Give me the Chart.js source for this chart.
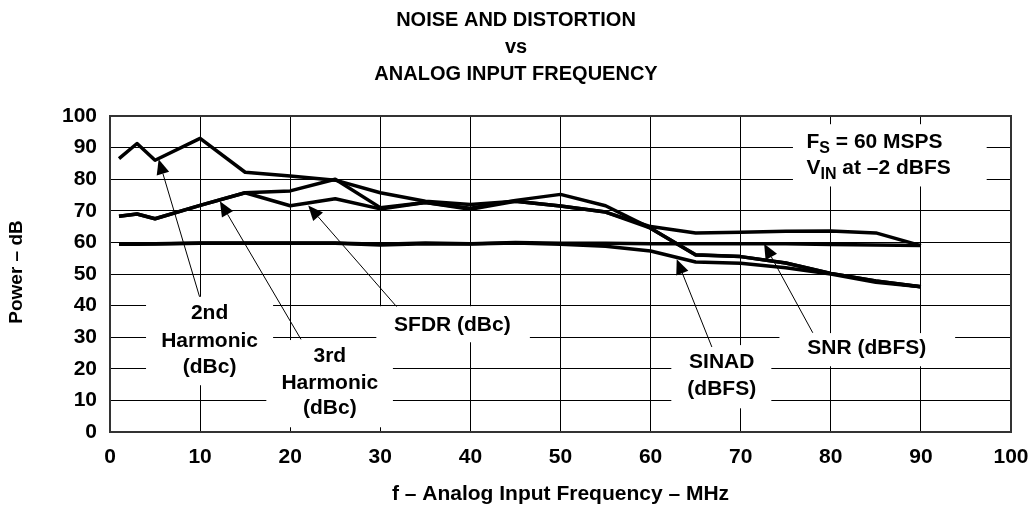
<!DOCTYPE html>
<html>
<head>
<meta charset="utf-8">
<script src="https://cdn.jsdelivr.net/npm/chart.js@4/dist/chart.umd.min.js"></script>
<style>
html,body{margin:0;padding:0;background:#fff;}
#wrap{width:1031px;height:510px;}
</style>
</head>
<body>
<div id="wrap"><canvas id="c" width="1031" height="510"></canvas></div>
<script>
// ---- data ----
const freqs      = [1, 3, 5, 10, 15, 20, 25, 30, 35, 40, 45, 50, 55, 60, 65, 70, 75, 80, 85, 90];
const secondHarm = [86.5, 91.3, 86, 92.9, 82.2, 81, 79.7, 75.7, 73, 72, 73, 71.5, 69.6, 65, 63, 63.2, 63.5, 63.6, 63, 59];
const thirdHarm  = [68.3, 69, 67.5, 71.7, 75.7, 76.3, 80, 71, 72.6, 70.8, 73.3, 75.2, 71.6, 64.5, 56.1, 55.5, 53.5, 50.2, 47.8, 46];
const sfdr       = [68.3, 69, 67.5, 71.7, 75.7, 71.6, 73.8, 70.6, 72.6, 70.5, 73, 71.5, 69.6, 64.5, 56, 55.5, 53.5, 50.2, 47.8, 46];
const snr        = [59.5, 59.6, 59.6, 59.8, 59.8, 59.8, 59.8, 59.4, 59.8, 59.6, 60, 59.7, 59.7, 59.6, 59.6, 59.6, 59.6, 59.3, 59.2, 59];
const sinad      = [59.4, 59.4, 59.5, 59.7, 59.7, 59.7, 59.7, 59.2, 59.6, 59.5, 59.8, 59.4, 58.8, 57.3, 53.8, 53.4, 52, 50, 47.4, 46];
const xTicks = [0,10,20,30,40,50,60,70,80,90,100];
const yTicks = [0,10,20,30,40,50,60,70,80,90,100];
const titleLines = ['NOISE AND DISTORTION', 'vs', 'ANALOG INPUT FREQUENCY'];
const xTitle = 'f – Analog Input Frequency – MHz';
const yTitle = 'Power – dB';

// annotations (data coordinates)
const labels = [
  {lines:['2nd','Harmonic','(dBc)'], x:11.05, y:[37.6,28.8,20.4], box:[4.0,42.8,18.1,14.8]},
  {lines:['3rd','Harmonic','(dBc)'], x:24.4, y:[24.0,15.6,7.4], box:[17.35,29.1,31.4,1.5]},
  {lines:['SFDR (dBc)'], x:38.0, y:[33.8], box:[29.56,39.8,46.6,28.4]},
  {lines:['SINAD','(dBFS)'], x:67.9, y:[22.2,13.7], box:[62.3,27.5,73.4,7.5]},
  {lines:['SNR (dBFS)'], x:84.0, y:[26.4], box:[74.3,31.3,93.8,20.8]}
];
const fsBox = [75.8,97.4,97.3,77.7];
const arrows = [
  {from:[9.94,42.8], to:[5.4,86.3]},
  {from:[21.2,29.3], to:[12.2,73.0]},
  {from:[31.8,39.7], to:[22.0,71.7]},
  {from:[66.8,26.9], to:[62.9,54.7]},
  {from:[78.0,31.4], to:[72.6,59.6]}
];

const FONT = '"Liberation Sans", Arial, Helvetica, sans-serif';
const toXY = (xs, ys) => xs.map((x,i)=>({x:x, y:ys[i]}));
const series = [secondHarm, thirdHarm, sfdr, snr, sinad];
const names = ['2nd Harmonic (dBc)','3rd Harmonic (dBc)','SFDR (dBc)','SNR (dBFS)','SINAD (dBFS)'];

const annot = {
  id:'annot',
  beforeDatasetsDraw(chart){
    const ctx = chart.ctx, xs = chart.scales.x, ys = chart.scales.y;
    ctx.save();
    ctx.fillStyle = '#fff';
    const boxes = labels.map(l=>l.box).concat([fsBox]);
    boxes.forEach(b=>{
      const x1 = xs.getPixelForValue(b[0]), y1 = ys.getPixelForValue(b[1]);
      const x2 = xs.getPixelForValue(b[2]), y2 = ys.getPixelForValue(b[3]);
      ctx.fillRect(x1, y1, x2-x1, y2-y1);
    });
    ctx.restore();
  },
  afterDatasetsDraw(chart){
    const ctx = chart.ctx, xs = chart.scales.x, ys = chart.scales.y;
    ctx.save();
    ctx.fillStyle = '#000';
    ctx.font = 'bold 21px ' + FONT;
    ctx.textAlign = 'center';
    ctx.textBaseline = 'middle';
    labels.forEach(l=>{
      l.lines.forEach((t,i)=>{
        ctx.fillText(t, xs.getPixelForValue(l.x), ys.getPixelForValue(l.y[i]));
      });
    });
    // Fs annotation with subscripts
    ctx.textAlign = 'left';
    ctx.textBaseline = 'alphabetic';
    const fx = xs.getPixelForValue(77.3);
    const b1 = ys.getPixelForValue(92.1) + 7.5, b2 = ys.getPixelForValue(84.1) + 7.5;
    let x = fx;
    ctx.font = 'bold 21px ' + FONT; ctx.fillText('F', x, b1); x += ctx.measureText('F').width;
    ctx.font = 'bold 16px ' + FONT; ctx.fillText('S', x, b1+5); x += ctx.measureText('S').width;
    ctx.font = 'bold 21px ' + FONT; ctx.fillText(' = 60 MSPS', x, b1);
    x = fx;
    ctx.fillText('V', x, b2); x += ctx.measureText('V').width;
    ctx.font = 'bold 16px ' + FONT; ctx.fillText('IN', x, b2+5); x += ctx.measureText('IN').width;
    ctx.font = 'bold 21px ' + FONT; ctx.fillText(' at –2 dBFS', x, b2);
    // arrows
    ctx.strokeStyle = '#000';
    ctx.lineWidth = 1;
    arrows.forEach(a=>{
      const x1 = xs.getPixelForValue(a.from[0]), y1 = ys.getPixelForValue(a.from[1]);
      const x2 = xs.getPixelForValue(a.to[0]), y2 = ys.getPixelForValue(a.to[1]);
      const ang = Math.atan2(y2-y1, x2-x1);
      const L = 15, W = 6.5;
      const bx = x2 - L*Math.cos(ang), by = y2 - L*Math.sin(ang);
      ctx.beginPath(); ctx.moveTo(x1,y1); ctx.lineTo(bx,by); ctx.stroke();
      ctx.beginPath();
      ctx.moveTo(x2,y2);
      ctx.lineTo(bx + W*Math.sin(ang), by - W*Math.cos(ang));
      ctx.lineTo(bx - W*Math.sin(ang), by + W*Math.cos(ang));
      ctx.closePath(); ctx.fill();
    });
    ctx.restore();
  },
  afterDraw(chart){
    const ctx = chart.ctx, ca = chart.chartArea;
    ctx.save();
    ctx.fillStyle = '#000';
    ctx.font = 'bold 20px ' + FONT;
    ctx.textAlign = 'center';
    ctx.textBaseline = 'middle';
    const ty = [20, 47, 74];
    titleLines.forEach((t,i)=>ctx.fillText(t, 516, ty[i]));
    ctx.font = 'bold 21px ' + FONT;
    ctx.fillText(xTitle, (ca.left+ca.right)/2, 494);
    ctx.font = 'bold 19px ' + FONT;
    ctx.translate(17, 272);
    ctx.rotate(-Math.PI/2);
    ctx.fillText(yTitle, 0, 0);
    ctx.restore();
  }
};

new Chart(document.getElementById('c'), {
  type: 'scatter',
  data: {
    datasets: series.map((s,i)=>({
      label: names[i],
      data: toXY(freqs, s),
      showLine: true,
      borderColor: '#000',
      backgroundColor: '#000',
      borderWidth: 3.5,
      pointRadius: 0,
      tension: 0,
      borderJoinStyle: 'round',
      borderCapStyle: 'butt'
    }))
  },
  options: {
    responsive: false,
    animation: false,
    devicePixelRatio: 1,
    layout: {padding: {top: 116, right: 20, left: 0, bottom: 0}},
    plugins: {legend: {display: false}, tooltip: {enabled: false}, title: {display: false}},
    scales: {
      x: {
        type: 'linear', min: 0, max: 100,
        afterFit(s){ s.height = 78; s.paddingLeft = 0; s.paddingRight = 0; },
        afterBuildTicks(s){ s.ticks = xTicks.map(v=>({value:v})); },
        grid: {color: '#000', lineWidth: 1, drawTicks: false},
        border: {color: '#333', width: 2},
        ticks: {color: '#000', padding: 13, font: {family: FONT, size: 21, weight: 'bold'}, maxRotation: 0}
      },
      y: {
        type: 'linear', min: 0, max: 100,
        afterFit(s){ s.width = 110; s.paddingTop = 0; s.paddingBottom = 0; },
        afterBuildTicks(s){ s.ticks = yTicks.map(v=>({value:v})); },
        grid: {color: '#000', lineWidth: 1, drawTicks: false},
        border: {color: '#333', width: 2},
        ticks: {color: '#000', padding: 13, font: {family: FONT, size: 21, weight: 'bold'}}
      }
    }
  },
  plugins: [annot, {
    id: 'frame',
    afterDatasetsDraw(chart){
      const ctx = chart.ctx, ca = chart.chartArea;
      ctx.save();
      ctx.strokeStyle = '#333';
      ctx.lineWidth = 2;
      ctx.beginPath();
      ctx.moveTo(ca.left, ca.top); ctx.lineTo(ca.right, ca.top); ctx.lineTo(ca.right, ca.bottom);
      ctx.stroke();
      ctx.restore();
    }
  }]
});
</script>
</body>
</html>
